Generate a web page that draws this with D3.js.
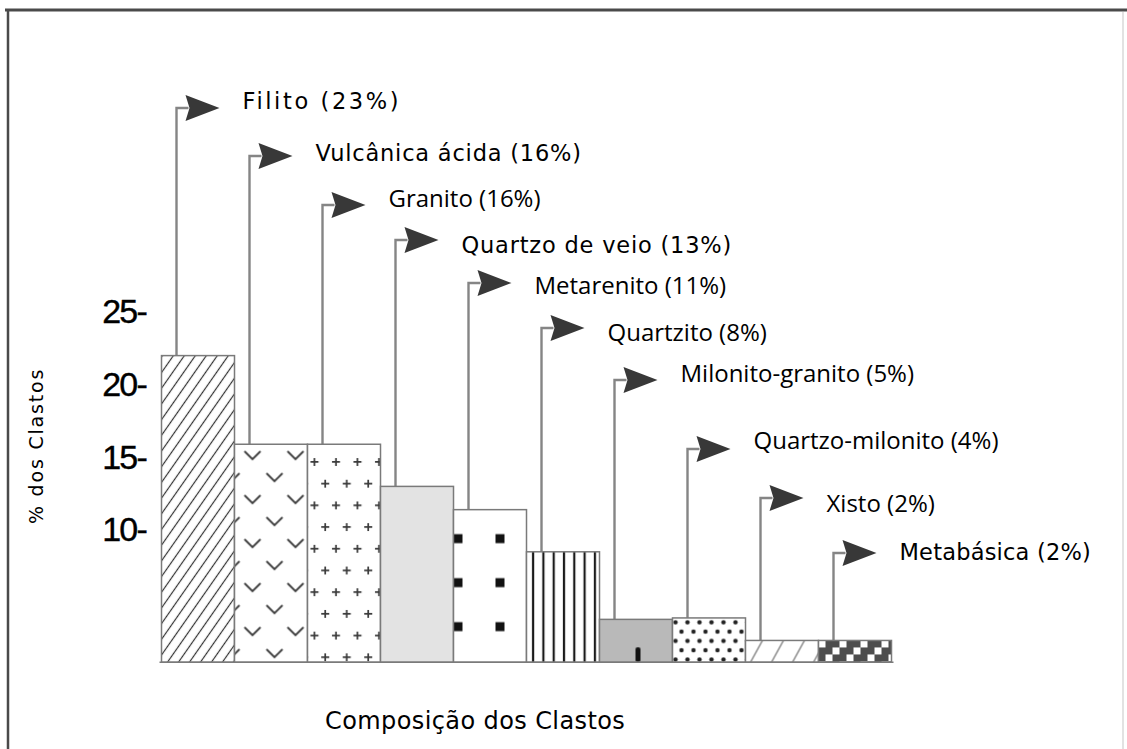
<!DOCTYPE html>
<html>
<head>
<meta charset="utf-8">
<script src="https://cdn.jsdelivr.net/npm/d3@7"></script>
<style>
  html, body { margin: 0; padding: 0; background: #fff; }
  svg { display: block; }
</style>
</head>
<body>
<script>
  // clast types, labelled percentages and bar heights as drawn (axis units)
  const CATEGORIES = [
    "Filito", "Vulcânica ácida", "Granito", "Quartzo de veio", "Metarenito",
    "Quartzito", "Milonito-granito", "Quartzo-milonito", "Xisto", "Metabásica"
  ];
  const PERCENTS = [23, 16, 16, 13, 11, 8, 5, 4, 2, 2];
  const BAR_HEIGHTS = [22.0, 15.9, 15.9, 13.0, 11.4, 8.5, 3.85, 3.95, 2.4, 2.4];
  const BASE_VALUE = 0.9;
  const Y_TICKS = [10, 15, 20, 25];
  const PATTERNS = ["hatch", "vee", "plus", "light", "squares", "vlines", "gray", "dots", "xisto", "checker"];

  // layout of the callouts (pixels) and their label font
  const CALLOUT_Y = [108, 156, 205, 240, 283, 328, 380, 449, 498, 553];
  const LABEL_Y = [101, 153, 198, 245, 285, 332, 373, 440, 503, 552];
  const LABEL_FONT = ["wide", "wide", "narrow", "wide", "narrow", "narrow", "narrow", "narrow", "narrow", "wide"];
  const LABEL_SPACING = [2.6, 0.8, 0, 0.8, 0, 0, 0, 0, 0, 0.2];

  const width = 1127, height = 749;
  const leaderOffset = 15;
  const arrowLen = 43;
  const labelGap = 23;

  const svg = d3.select("body").append("svg")
    .attr("width", width)
    .attr("height", height);
  svg.append("rect").attr("width", width).attr("height", height).attr("fill", "#fff");

  const x = d3.scaleBand().domain(CATEGORIES).range([161.5, 891.5]).padding(0);
  const y = d3.scaleLinear().domain([10, 25]).range([530, 312]);

  const bars = CATEGORIES.map((name, i) => ({
    name, i, pct: PERCENTS[i], h: BAR_HEIGHTS[i], pattern: PATTERNS[i]
  }));

  // patterns, anchored to each bar
  const defs = svg.append("defs");
  function buildPattern(p, d) {
    const x0 = x(d.name), top = y(d.h), base = y(BASE_VALUE), w = x.bandwidth();
    const bh = base - top;
    p.attr("patternUnits", "userSpaceOnUse").attr("x", x0).attr("y", top);
    const bg = (pw, ph, fill) => p.attr("width", pw).attr("height", ph)
      .append("rect").attr("width", pw).attr("height", ph).attr("fill", fill);
    switch (d.pattern) {
      case "hatch":
        bg(9, 9, "#fff");
        p.attr("patternTransform", "rotate(35)");
        p.append("line").attr("x1", 4.5).attr("x2", 4.5).attr("y1", 0).attr("y2", 9)
          .attr("stroke", "#333").attr("stroke-width", 1.2);
        break;
      case "vee": {
        bg(43, 44, "#fff");
        [[18, 11], [40, 33], [-3, 33], [61, 11]].forEach(([cx, cy]) => {
          p.append("path").attr("d", `M${cx - 8},${cy - 4}L${cx},${cy + 4}L${cx + 8},${cy - 4}`)
            .attr("fill", "none").attr("stroke", "#3a3a3a").attr("stroke-width", 1.8);
        });
        break;
      }
      case "plus": {
        bg(21.5, 43.4, "#fff");
        [[7, 17.7], [17.75, 39.4], [-3.75, 39.4], [17.75, -4]].forEach(([cx, cy]) => {
          p.append("path").attr("d", `M${cx - 4},${cy}H${cx + 4}M${cx},${cy - 4}V${cy + 4}`)
            .attr("stroke", "#3a3a3a").attr("stroke-width", 1.7);
        });
        break;
      }
      case "light":
        bg(10, 10, "#e3e3e3");
        break;
      case "squares":
        bg(42, 44, "#fff");
        p.append("rect").attr("x", 0).attr("y", 24.5).attr("width", 9).attr("height", 9).attr("fill", "#111");
        break;
      case "vlines":
        bg(10.3, 10, "#fff");
        p.append("rect").attr("x", 5.5).attr("width", 2.2).attr("height", 10).attr("fill", "#1a1a1a");
        break;
      case "gray":
        bg(w, bh, "#b9b9b9");
        p.append("rect").attr("x", 36).attr("y", bh - 15).attr("width", 5).attr("height", 15)
          .attr("rx", 2).attr("fill", "#111");
        break;
      case "dots":
        bg(12, 18.6, "#fff");
        [[3, 4.5], [9, 13.8]].forEach(([cx, cy]) => {
          p.append("circle").attr("cx", cx).attr("cy", cy).attr("r", 2.2).attr("fill", "#222");
        });
        break;
      case "xisto":
        bg(21, bh, "#fff");
        p.append("line").attr("x1", 5).attr("y1", bh).attr("x2", 17).attr("y2", 0)
          .attr("stroke", "#777").attr("stroke-width", 1.3);
        break;
      case "checker":
        bg(21, 21, "#4d4d4d");
        [[0, 0], [14, 7], [7, 14]].forEach(([sx, sy]) => {
          p.append("rect").attr("x", sx).attr("y", sy).attr("width", 7).attr("height", 7).attr("fill", "#fff");
        });
        break;
    }
  }
  bars.forEach((d) => buildPattern(defs.append("pattern").attr("id", "pat-" + d.i), d));

  // frame
  svg.append("line").attr("x1", 5).attr("x2", width).attr("y1", 10).attr("y2", 10)
    .attr("stroke", "#4a4a4a").attr("stroke-width", 3);
  svg.append("line").attr("x1", 8).attr("x2", 8).attr("y1", 10).attr("y2", height)
    .attr("stroke", "#4a4a4a").attr("stroke-width", 2.5);
  svg.append("line").attr("x1", 1123).attr("x2", 1123).attr("y1", 12).attr("y2", height)
    .attr("stroke", "#d8d8d8").attr("stroke-width", 1.5);

  // leader lines and arrows
  const callouts = svg.append("g");
  bars.forEach((d) => {
    const lx = x(d.name) + leaderOffset;
    const ay = CALLOUT_Y[d.i];
    callouts.append("path")
      .attr("d", `M${lx},${y(d.h)}V${ay}H${lx + 12}`)
      .attr("fill", "none").attr("stroke", "#858585").attr("stroke-width", 2.4);
    callouts.append("path")
      .attr("d", `M${lx + 9},${ay - 13}L${lx + arrowLen},${ay}L${lx + 9},${ay + 13}L${lx + 13},${ay}Z`)
      .attr("fill", "#383838");

    const wide = LABEL_FONT[d.i] === "wide";
    const fs = wide ? 22.5 : 24;
    callouts.append("text")
      .attr("x", lx + arrowLen + labelGap)
      .attr("y", LABEL_Y[d.i] + fs * 0.36)
      .attr("font-family", wide ? "DejaVu Sans" : "Open Sans")
      .attr("font-size", fs)
      .attr("letter-spacing", LABEL_SPACING[d.i])
      .attr("fill", "#000")
      .text(`${d.name} (${d.pct}%)`);
  });

  // bars
  svg.append("g").selectAll("rect")
    .data(bars)
    .join("rect")
    .attr("x", (d) => x(d.name))
    .attr("y", (d) => y(d.h))
    .attr("width", x.bandwidth())
    .attr("height", (d) => y(BASE_VALUE) - y(d.h))
    .attr("fill", (d) => `url(#pat-${d.i})`)
    .attr("stroke", "#7a7a7a")
    .attr("stroke-width", 1.5);

  svg.append("line")
    .attr("x1", x.range()[0] - 2).attr("x2", x.range()[1] + 2)
    .attr("y1", y(BASE_VALUE)).attr("y2", y(BASE_VALUE))
    .attr("stroke", "#7a7a7a").attr("stroke-width", 1.5);

  // y axis ticks
  const yAxis = svg.append("g")
    .attr("transform", "translate(146,0)")
    .call(d3.axisLeft(y).tickValues(Y_TICKS).tickSize(0).tickPadding(0).tickFormat((d) => d + "-"));
  yAxis.select(".domain").remove();
  yAxis.selectAll("text")
    .attr("font-family", "Liberation Sans")
    .attr("font-size", 34)
    .attr("letter-spacing", -1.8)
    .attr("stroke", "#000")
    .attr("stroke-width", 0.4)
    .attr("fill", "#000");

  // axis titles
  svg.append("text")
    .attr("transform", "translate(43,446) rotate(-90)")
    .attr("text-anchor", "middle")
    .attr("font-family", "DejaVu Sans")
    .attr("font-size", 19)
    .attr("letter-spacing", 1.8)
    .attr("fill", "#000")
    .text("% dos Clastos");

  svg.append("text")
    .attr("x", 325)
    .attr("y", 729)
    .attr("font-family", "DejaVu Sans")
    .attr("font-size", 24)
    .attr("letter-spacing", 0.4)
    .attr("fill", "#000")
    .text("Composição dos Clastos");
</script>
</body>
</html>
